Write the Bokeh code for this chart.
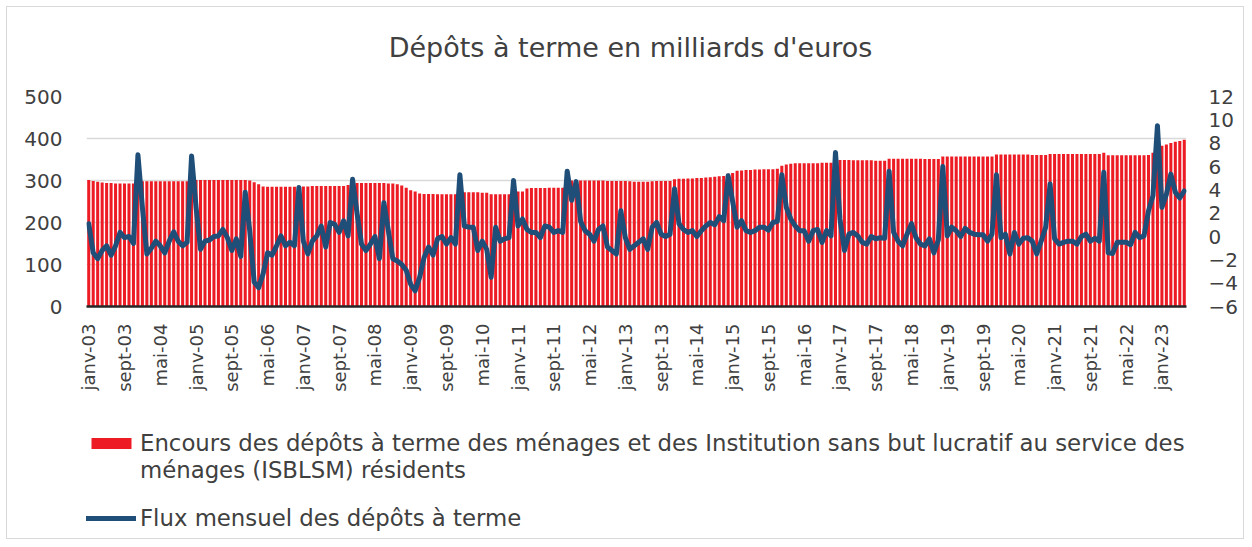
from math import pi
from bokeh.plotting import figure
from bokeh.layouts import column
from bokeh.models import Range1d, LinearAxis, FixedTicker, Legend, LegendItem, ColumnDataSource, Label
from bokeh.embed import file_html
from bokeh.resources import INLINE

# ---- data (monthly, janv-2003 .. juin-2023) ----
encours = [
    301, 299, 297, 295, 294, 294, 293, 293, 293, 293,
    293, 299, 298, 298, 298, 298, 298, 298, 298, 298,
    298, 298, 298, 298, 301, 301, 301, 301, 301, 301,
    301, 301, 301, 301, 301, 301, 300, 296, 291, 286,
    285, 285, 285, 285, 285, 285, 285, 286, 286, 286,
    287, 287, 287, 287, 287, 287, 287, 287, 289, 294,
    294, 294, 294, 294, 294, 294, 294, 293, 293, 291,
    288, 283, 277, 274, 269, 268, 268, 268, 267, 267,
    267, 267, 267, 270, 272, 272, 272, 272, 271, 271,
    267, 267, 267, 267, 267, 273, 274, 274, 281, 282,
    282, 282, 282, 283, 283, 283, 283, 299, 300, 300,
    300, 300, 300, 300, 300, 300, 299, 299, 299, 299,
    299, 298, 297, 297, 297, 297, 298, 299, 299, 299,
    299, 303, 304, 304, 305, 305, 306, 306, 307, 308,
    309, 310, 311, 316, 318, 323, 324, 325, 325, 326,
    326, 327, 327, 327, 328, 335, 338, 340, 341, 341,
    341, 341, 341, 341, 342, 342, 342, 342, 349, 349,
    349, 348, 348, 348, 348, 348, 347, 347, 347, 352,
    352, 352, 352, 352, 352, 352, 352, 351, 351, 351,
    351, 357, 357, 357, 357, 357, 357, 357, 357, 357,
    357, 357, 357, 362, 362, 362, 362, 362, 362, 362,
    362, 361, 361, 361, 361, 363, 363, 363, 363, 363,
    363, 363, 363, 363, 363, 363, 363, 366, 360, 360,
    360, 360, 360, 360, 360, 360, 360, 361, 366, 378,
    383, 386, 389, 392, 394, 397,
]

flux = [
    1.1, -1.4, -1.9, -1.2, -0.8, -1.6, -0.8, 0.35, -0.1, 0.0,
    -0.6, 7.0, 2.5, -1.5, -1.0, -0.4, -0.8, -1.4, -0.4, 0.4,
    -0.4, -0.8, -0.5, 6.9, 2.5, -1.1, -0.4, -0.3, 0.0, 0.05,
    0.6, -0.1, -1.2, -0.2, -1.7, 3.8, 0.5, -3.9, -4.4, -3.2,
    -1.4, -1.6, -0.8, 0.05, -0.8, -0.5, -0.8, 4.2, -0.4, -1.5,
    -0.4, 0.05, 0.9, -0.9, 1.2, 1.05, 0.35, 1.35, 0.05, 4.9,
    2.0, -0.65, -1.2, -0.65, 0.0, -1.9, 2.9, 0.5, -1.9, -2.1,
    -2.4, -2.9, -4.1, -4.65, -3.5, -1.8, -0.9, -1.6, -0.2, 0.0,
    -0.65, -0.1, -0.65, 5.3, 0.9, 0.8, 0.8, -1.2, -0.4, -1.1,
    -3.5, 0.8, -0.4, -0.2, -0.1, 4.8, 0.9, 1.5, 0.6, 0.35,
    0.35, -0.1, 0.9, 0.8, 0.35, 0.5, 0.35, 5.6, 3.1, 4.7,
    1.3, 0.5, 0.2, -0.4, 0.6, 0.9, -0.9, -1.2, -1.5, 2.2,
    -0.1, -1.1, -0.8, -0.5, -0.2, -1.1, 0.8, 1.2, 0.2, 0.0,
    0.2, 4.1, 1.1, 0.6, 0.35, 0.5, 0.0, 0.5, 0.9, 1.2,
    1.0, 1.7, 1.35, 5.2, 3.0, 0.8, 1.35, 0.5, 0.35, 0.5,
    0.8, 0.8, 0.55, 1.2, 1.3, 5.3, 2.5, 1.5, 0.9, 0.5,
    0.5, -0.4, 0.5, 0.6, -0.5, 0.5, 0.05, 7.2, 1.5, -1.2,
    0.2, 0.35, 0.05, -0.5, -0.65, 0.0, -0.2, -0.1, -0.15, 5.6,
    0.35, -0.4, -0.8, 0.2, 1.1, -0.1, -0.65, -0.8, -0.2, -1.4,
    -0.3, 6.0, 0.05, 0.8, 0.5, 0.0, 0.7, 0.35, 0.2, 0.15,
    0.15, -0.4, 0.2, 5.3, -0.1, 0.2, -1.5, 0.35, -0.65, -0.15,
    -0.1, -0.4, -1.5, -0.4, 0.8, 4.5, -0.2, -0.65, -0.5, -0.4,
    -0.4, -0.65, 0.0, 0.2, -0.4, -0.15, -0.4, 5.5, -1.4, -1.45,
    -0.5, -0.5, -0.5, -0.7, 0.35, -0.1, 0.05, 2.2, 3.5, 9.5,
    2.5, 3.6, 5.35, 3.8, 3.3, 3.9,
]

tick_labels = [
    "janv-03", "sept-03", "mai-04", "janv-05", "sept-05", "mai-06", "janv-07",
    "sept-07", "mai-08", "janv-09", "sept-09", "mai-10", "janv-11", "sept-11",
    "mai-12", "janv-13", "sept-13", "mai-14", "janv-15", "sept-15", "mai-16",
    "janv-17", "sept-17", "mai-18", "janv-19", "sept-19", "mai-20", "janv-21",
    "sept-21", "mai-22", "janv-23",
]
tick_step = 8
left_ticks = [0, 100, 200, 300, 400, 500]
right_ticks = [-6, -4, -2, 0, 2, 4, 6, 8, 10, 12]

title_text = "Dépôts à terme en milliards d'euros"
label_bars_1 = "Encours des dépôts à terme des ménages et des Institution sans but lucratif au service des"
label_bars_2 = "ménages (ISBLSM) résidents"
label_line = "Flux mensuel des dépôts à terme"

# ---- styles ----
FONT = "DejaVu Sans"
TXT = "#404040"
RED = "#ED1C24"
BLUE = "#1F4E79"
W = 1236
FRAME_W = 1100

n = len(encours)
idx = list(range(n))
src = ColumnDataSource(dict(x=idx, encours=encours, flux=flux))

# ---- title strip ----
pt = figure(width=W, height=70, output_backend="svg", toolbar_location=None,
            x_range=Range1d(0, FRAME_W), y_range=Range1d(0, 70),
            x_axis_location=None, y_axis_location=None, min_border=0)
pt.outline_line_color = None
pt.grid.visible = False
pt.add_layout(Label(x=544, y=30, text=title_text, text_align="center", text_baseline="middle",
                    text_font=FONT, text_font_size="27px", text_color=TXT))

# ---- main chart ----
p = figure(width=W, height=324, output_backend="svg", toolbar_location=None,
           x_range=Range1d(-0.5, n - 0.5), y_range=Range1d(0, 500),
           min_border_left=79, min_border_right=57, min_border_top=19, min_border_bottom=95)
p.outline_line_color = None
p.background_fill_color = "white"
p.border_fill_color = "white"

p.extra_y_ranges = {"flux": Range1d(-6, 12)}

bars = p.vbar(x="x", top="encours", bottom=0, width=0.68, source=src,
              fill_color=RED, line_color=None)
line = p.line(x="x", y="flux", source=src, y_range_name="flux",
              line_color=BLUE, line_width=5, line_join="round", line_cap="round")

xa = p.xaxis[0]
ticks = [i * tick_step for i in range(len(tick_labels))]
xa.ticker = FixedTicker(ticks=ticks)
xa.major_label_overrides = {t: lab for t, lab in zip(ticks, tick_labels)}
xa.major_label_orientation = pi / 2
xa.axis_line_color = "#262626"
xa.axis_line_width = 2.5
xa.major_tick_line_color = None
xa.minor_tick_line_color = None
xa.major_label_text_font = FONT
xa.major_label_text_font_size = "18px"
xa.major_label_text_color = TXT
xa.major_label_standoff = 11

ya = p.yaxis[0]
ya.ticker = FixedTicker(ticks=left_ticks)
ya.axis_line_color = None
ya.major_tick_line_color = None
ya.minor_tick_line_color = None
ya.major_label_text_font = FONT
ya.major_label_text_font_size = "20px"
ya.major_label_text_color = TXT
ya.major_label_standoff = 18

ra = LinearAxis(y_range_name="flux", ticker=FixedTicker(ticks=right_ticks))
ra.axis_line_color = None
ra.major_tick_line_color = None
ra.minor_tick_line_color = None
ra.major_label_text_font = FONT
ra.major_label_text_font_size = "20px"
ra.major_label_text_color = TXT
ra.major_label_standoff = 16
p.add_layout(ra, "right")

p.xgrid.grid_line_color = None
p.ygrid.grid_line_color = "#d9d9d9"
p.ygrid.grid_line_width = 1.5

# ---- legend strip (frame aligned with the chart above) ----
pl = figure(width=W, height=137, output_backend="svg", toolbar_location=None,
            x_range=Range1d(0, 1), y_range=Range1d(0, 1),
            x_axis_location=None, y_axis_location=None, min_border=0)
pl.outline_line_color = None
pl.grid.visible = False
# legend-only renderers, kept outside the visible range
lb = pl.vbar(x=[-5], top=[-5], bottom=[-6], width=0.68, fill_color=RED, line_color=None)
lb_blank = pl.vbar(x=[-5], top=[-5], bottom=[-6], width=0.68, fill_alpha=0, line_color=None)
ll = pl.line(x=[-6, -5], y=[-5, -5], line_color=BLUE, line_width=5, line_cap="round")

common = dict(orientation="vertical", glyph_width=50, glyph_height=14, label_standoff=4,
              padding=0, margin=0, border_line_color=None, background_fill_alpha=0,
              label_text_font=FONT, label_text_font_size="22.8px", label_text_color=TXT)
legend_a = Legend(items=[LegendItem(label=label_bars_1, renderers=[lb]),
                         LegendItem(label=label_bars_2, renderers=[lb_blank])],
                  location=(0, 55), spacing=1, **common)
legend_b = Legend(items=[LegendItem(label=label_line, renderers=[ll])],
                  location=(0, 7), spacing=0, **common)
pl.add_layout(legend_a, "center")
pl.add_layout(legend_b, "center")

layout = column(pt, p, pl, spacing=0, styles={"border": "1px solid #d9d9d9", "margin": "6px"})
open("out.html", "w").write(file_html(layout, INLINE))
